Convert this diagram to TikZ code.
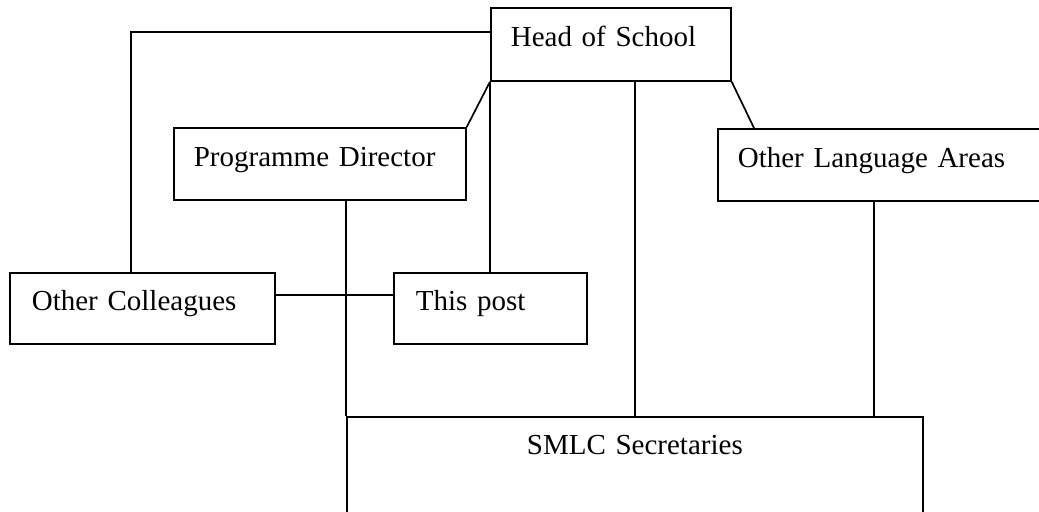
\documentclass[tikz,border=0pt]{standalone}
\usepackage{fontspec}
\setmainfont{Liberation Serif}
\usetikzlibrary{calc}

\tikzset{
  orgbox/.style={draw, anchor=north west, align=left, inner xsep=10pt, inner ysep=0pt,
    text height=19.5pt, text depth=16.5pt, font=\fontsize{14.5}{17}\selectfont},
}

\begin{document}
\begin{tikzpicture}[x=0.5pt,y=-0.5pt,line width=0.85pt]
\useasboundingbox (0,0) rectangle (1039,511);
\clip (0,0) rectangle (1039,511);
% boxes
\node[orgbox, text width=100pt, text depth=17pt] (hos) at (490,7) {Head of School};
\node[orgbox, text width=126pt] (pd) at (173,127) {Programme Director};
\node[orgbox, text width=150pt] (ola) at (717,128) {Other Language Areas};
\node[orgbox, text width=110.5pt, inner xsep=11pt, text height=19pt] (oc) at (9,272) {Other Colleagues};
\node[orgbox, text width=74.5pt, inner xsep=11pt, text height=19pt] (tp) at (393,272) {This post};
\node[orgbox, text width=268pt, align=center, text height=19pt, text depth=53pt] (smlc) at (346,416) {SMLC Secretaries};
% lines
\coordinate (olafoot) at ([xshift=78.5pt]ola.south west);
\draw ([yshift=-12.5pt]hos.north west) -| ([xshift=-5.75pt]oc.north);
\draw (hos.south west) -- (pd.north east);
\draw (hos.south east) -- ([xshift=18.5pt]ola.north west);
\draw (hos.south west) -- (hos.south west |- tp.north);
\draw (smlc.north |- hos.south) -- (smlc.north);
\draw (pd.south -| smlc.west) -- (smlc.north west);
\draw (olafoot) -- (olafoot |- smlc.north);
\draw ([yshift=6.75pt]oc.east) -- ([yshift=6.75pt]tp.west);
\end{tikzpicture}
\end{document}
